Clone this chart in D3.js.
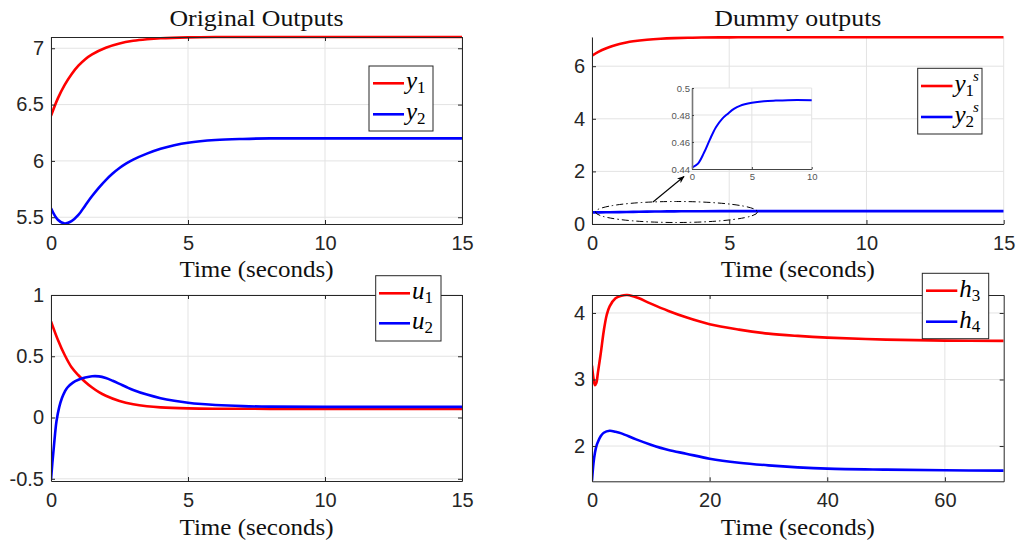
<!DOCTYPE html>
<html><head><meta charset="utf-8">
<script src="https://cdn.jsdelivr.net/npm/d3@7"></script>
<style>body{margin:0;background:#fff}</style>
</head><body>
<svg id="c" width="1020" height="543"></svg>
<script>
// ---------- data ----------
const tY1 = [0,0.25,0.5,0.75,1,1.25,1.5,2,2.5,3,3.5,4,5,6,8,10,15];
const y1  = [6.40,6.555,6.675,6.77,6.845,6.903,6.946,7.005,7.043,7.066,7.08,7.089,7.097,7.1,7.1,7.1,7.1];
const tY2 = [0,0.25,0.5,0.75,1,1.25,1.5,1.75,2,2.25,2.5,2.75,3,3.5,4,4.5,5,6,7,8,10,15];
const y2  = [5.58,5.478,5.445,5.465,5.52,5.605,5.688,5.763,5.83,5.888,5.937,5.978,6.012,6.065,6.108,6.14,6.162,6.185,6.195,6.2,6.2,6.2];
const tY2s = [0,0.5,1,1.5,2,2.5,3,3.5,4,5,6,7,8,10,15];
const y2s  = [0.441,0.444,0.452,0.462,0.471,0.477,0.481,0.4845,0.4868,0.489,0.4902,0.4907,0.491,0.491,0.491];
const tU1 = [0,0.25,0.5,0.75,1,1.25,1.5,1.75,2,2.5,3,3.5,4,5,6,8,15];
const u1  = [0.785,0.635,0.51,0.41,0.345,0.29,0.245,0.207,0.178,0.135,0.108,0.092,0.083,0.075,0.072,0.071,0.071];
const tU2 = [0,0.05,0.1,0.15,0.2,0.3,0.4,0.5,0.6,0.8,1,1.25,1.5,1.75,2,2.25,2.5,2.75,3,3.5,4,4.5,5,5.5,6,7,8,10,15];
const u2  = [-0.51,-0.37,-0.25,-0.13,-0.03,0.085,0.16,0.21,0.245,0.285,0.308,0.326,0.337,0.336,0.322,0.30,0.275,0.249,0.225,0.187,0.158,0.137,0.121,0.110,0.102,0.093,0.089,0.087,0.087];
const tH3 = [0,0.25,0.5,0.75,1,1.5,2,2.5,3,4,5,6,7,8,10,13,16,20,25,30,35,40,50,60,70];
const h3  = [3.21,3.02,2.915,2.95,3.1,3.4,3.73,3.97,4.1,4.22,4.26,4.27,4.25,4.22,4.14,4.03,3.935,3.83,3.75,3.69,3.655,3.63,3.60,3.585,3.58];
const tH4 = [0,0.25,0.5,0.75,1,1.5,2,3,4,5,7.5,10,13,16,20,25,30,35,40,50,60,70];
const h4  = [1.48,1.74,1.9,2.0,2.06,2.15,2.2,2.23,2.215,2.19,2.10,2.02,1.94,1.885,1.81,1.75,1.71,1.68,1.66,1.645,1.635,1.63];

const xTicks15 = [0,5,10,15];
const xTicks70 = [0,20,40,60];
const yTicksP1 = [5.5,6,6.5,7];
const yTicksP2 = [0,2,4,6];
const yTicksP3 = [-0.5,0,0.5,1];
const yTicksP4 = [2,3,4];
const insetXTicks = [0,5,10];
const insetYTicks = [0.44,0.46,0.48,0.5];
const titles = ["Original Outputs","Dummy outputs"];
const xLabel = "Time (seconds)";

// ---------- drawing ----------
const svg = d3.select("#c");
const RED = "#ff0000", BLUE = "#0000ff", AX = "#262626", GRID = "#e3e3e3";
const SANS = "'Liberation Sans', Arial, sans-serif";
const SERIF = "'Liberation Serif', 'Times New Roman', serif";
const CURVE = d3.curveCatmullRom.alpha(0.5);
let clipId = 0;

function zip(t, v){ return t.map((d,i)=>[d, v[i]]); }

function panel(cfg){
  const g = svg.append("g");
  const x = d3.scaleLinear().domain(cfg.xd).range([cfg.L, cfg.R]);
  const y = d3.scaleLinear().domain(cfg.yd).range([cfg.B, cfg.T]);
  g.selectAll(".gx").data(cfg.xt).enter().append("line")
    .attr("x1", d=>x(d)).attr("x2", d=>x(d)).attr("y1", cfg.T).attr("y2", cfg.B)
    .attr("stroke", GRID).attr("stroke-width", 1);
  g.selectAll(".gy").data(cfg.yt).enter().append("line")
    .attr("y1", d=>y(d)).attr("y2", d=>y(d)).attr("x1", cfg.L).attr("x2", cfg.R)
    .attr("stroke", GRID).attr("stroke-width", 1);
  const id = "clip" + (clipId++);
  svg.append("clipPath").attr("id", id).append("rect")
    .attr("x", cfg.L).attr("y", cfg.T - 2).attr("width", cfg.R - cfg.L).attr("height", cfg.B - cfg.T + 2);
  const line = d3.line().x(d=>x(d[0])).y(d=>y(d[1])).curve(CURVE);
  const lg = g.append("g").attr("clip-path", `url(#${id})`);
  cfg.series.forEach(s=>{
    lg.append("path").attr("d", line(zip(s.t, s.v))).attr("fill","none")
      .attr("stroke", s.c).attr("stroke-width", 2.6).attr("stroke-linejoin","round");
  });
  const styleAx = sel => {
    sel.select(".domain").attr("stroke", AX).attr("stroke-width", 1);
    sel.selectAll(".tick line").attr("stroke", AX);
    sel.selectAll(".tick text").attr("fill", AX).attr("font-family", SANS).attr("font-size", 20);
  };
  g.append("g").attr("transform", `translate(0,${cfg.B})`)
    .call(d3.axisBottom(x).tickValues(cfg.xt).tickSizeInner(-4).tickSizeOuter(0).tickPadding(12).tickFormat(d=>String(d)))
    .call(styleAx);
  g.append("g").attr("transform", `translate(${cfg.L},0)`)
    .call(d3.axisLeft(y).tickValues(cfg.yt).tickSizeInner(-4).tickSizeOuter(0).tickPadding(7).tickFormat(d=>String(d)))
    .call(styleAx);
  if (cfg.box){
    g.append("g").attr("transform", `translate(0,${cfg.T})`)
      .call(d3.axisTop(x).tickValues(cfg.xt).tickSizeInner(-4).tickSizeOuter(0).tickFormat(""))
      .call(styleAx);
    g.append("g").attr("transform", `translate(${cfg.R},0)`)
      .call(d3.axisRight(y).tickValues(cfg.yt).tickSizeInner(-4).tickSizeOuter(0).tickFormat(""))
      .call(styleAx);
  }
  g.append("text").attr("x", (cfg.L+cfg.R)/2).attr("y", cfg.labelY).attr("text-anchor","middle")
    .attr("font-family", SERIF).attr("font-size", 23).attr("fill", "#111")
    .attr("textLength", 154).attr("lengthAdjust","spacingAndGlyphs").text(xLabel);
  if (cfg.title){
    g.append("text").attr("x", (cfg.L+cfg.R)/2).attr("y", 26).attr("text-anchor","middle")
      .attr("font-family", SERIF).attr("font-size", 23).attr("fill", "#111")
      .attr("textLength", cfg.titleLen).attr("lengthAdjust","spacingAndGlyphs").text(cfg.title);
  }
  return {g, x, y};
}

function legend(box, rows){
  const g = svg.append("g");
  g.append("rect").attr("x", box[0]).attr("y", box[1]).attr("width", box[2]).attr("height", box[3])
    .attr("fill", "#fff").attr("stroke", AX).attr("stroke-width", 1);
  rows.forEach(r=>{
    g.append("line").attr("x1", r.x0).attr("x2", r.x1).attr("y1", r.y).attr("y2", r.y)
      .attr("stroke", r.c).attr("stroke-width", 2.6);
    const tx = r.x1 + 2, base = r.y + 6;
    const t = g.append("text").attr("x", tx).attr("y", base).attr("font-family", SERIF)
      .attr("fill", "#000");
    t.append("tspan").attr("font-style","italic").attr("font-size", 25).text(r.sym);
    t.append("tspan").attr("font-size", 17).attr("dy", 4).text(r.sub);
    if (r.sup){
      t.append("tspan").attr("font-style","italic").attr("font-size", 15)
        .attr("dx", -1).attr("dy", -15).text(r.sup);
    }
  });
}

// Panel 1
panel({L:51, R:462, T:37, B:224, xd:[0,15], yd:[5.44,7.1], xt:xTicks15, yt:yTicksP1, box:true,
  labelY:277, title:titles[0], titleLen:174,
  series:[{t:tY1, v:y1, c:RED},{t:tY2, v:y2, c:BLUE}]});
legend([369,66,64,65], [
  {x0:373, x1:404, y:83.3, c:RED, sym:"y", sub:"1"},
  {x0:373, x1:404, y:114.3, c:BLUE, sym:"y", sub:"2"}]);

// Panel 2
panel({L:592, R:1003.7, T:37, B:224, xd:[0,15], yd:[0,7.11], xt:xTicks15, yt:yTicksP2, box:false,
  labelY:277, title:titles[1], titleLen:167,
  series:[{t:tY1, v:y1, c:RED},{t:tY2s, v:y2s, c:BLUE}]});
legend([917.7,68.3,64.3,65.7], [
  {x0:921, x1:952.5, y:86, c:RED, sym:"y", sub:"1", sup:"s"},
  {x0:921, x1:952.5, y:117, c:BLUE, sym:"y", sub:"2", sup:"s"}]);

// inset
(function(){
  const L=692, R=811.7, T=88, B=169;
  const g = svg.append("g");
  const x = d3.scaleLinear().domain([0,10]).range([L,R]);
  const y = d3.scaleLinear().domain([0.44,0.5]).range([B,T]);
  g.append("rect").attr("x", L).attr("y", T).attr("width", R-L).attr("height", B-T).attr("fill", "#fff");
  g.selectAll(".gx").data(insetXTicks.slice(1)).enter().append("line")
    .attr("x1", d=>x(d)).attr("x2", d=>x(d)).attr("y1", T).attr("y2", B).attr("stroke", GRID);
  g.selectAll(".gy").data(insetYTicks.slice(1)).enter().append("line")
    .attr("y1", d=>y(d)).attr("y2", d=>y(d)).attr("x1", L).attr("x2", R).attr("stroke", GRID);
  const pts = zip(tY2s, y2s).filter(d=>d[0] <= 10);
  g.append("path").attr("d", d3.line().x(d=>x(d[0])).y(d=>y(d[1])).curve(CURVE)(pts))
    .attr("fill","none").attr("stroke", BLUE).attr("stroke-width", 2);
  const st = sel => {
    sel.select(".domain").attr("stroke", "#444").attr("stroke-width", 1.2);
    sel.selectAll(".tick line").attr("stroke", "#444");
    sel.selectAll(".tick text").attr("fill", "#555").attr("font-family", SANS).attr("font-size", 9.5);
  };
  g.append("g").attr("transform", `translate(0,${B})`)
    .call(d3.axisBottom(x).tickValues(insetXTicks).tickSizeInner(-2).tickSizeOuter(0).tickPadding(4).tickFormat(d=>String(d))).call(st);
  const la = g.append("g").attr("transform", `translate(${L},0)`)
    .call(d3.axisLeft(y).tickValues(insetYTicks).tickSizeInner(-2).tickSizeOuter(0).tickPadding(2).tickFormat(d=>String(d))).call(st);
  la.select(".domain").attr("stroke", "#777").attr("stroke-width", 1.6);
  svg.append("ellipse").attr("cx", 676.5).attr("cy", 212).attr("rx", 81).attr("ry", 10.5)
    .attr("fill","none").attr("stroke","#000").attr("stroke-width",1).attr("stroke-dasharray","7,3,1.5,3");
  const defs = svg.append("defs");
  defs.append("marker").attr("id","ah").attr("viewBox","0 0 10 10").attr("refX",9).attr("refY",5)
    .attr("markerWidth",7).attr("markerHeight",7).attr("orient","auto")
    .append("path").attr("d","M0,1 L10,5 L0,9 L3,5 Z").attr("fill","#000");
  svg.append("line").attr("x1",653).attr("y1",202).attr("x2",684).attr("y2",176.5)
    .attr("stroke","#000").attr("stroke-width",1.1).attr("marker-end","url(#ah)");
})();

// Panel 3
panel({L:51, R:462, T:295, B:481, xd:[0,15], yd:[-0.518,1], xt:xTicks15, yt:yTicksP3, box:true,
  labelY:535,
  series:[{t:tU1, v:u1, c:RED},{t:tU2, v:u2, c:BLUE}]});
legend([375.7,275.7,65.3,65.3], [
  {x0:379, x1:410, y:293.3, c:RED, sym:"u", sub:"1"},
  {x0:379, x1:410, y:323.3, c:BLUE, sym:"u", sub:"2"}]);

// Panel 4
panel({L:592, R:1003.7, T:295, B:481.3, xd:[0,70], yd:[1.47,4.27], xt:xTicks70, yt:yTicksP4, box:true,
  labelY:535,
  series:[{t:tH3, v:h3, c:RED},{t:tH4, v:h4, c:BLUE}]});
legend([922.3,273.3,66.4,65.4], [
  {x0:926, x1:957.3, y:290.7, c:RED, sym:"h", sub:"3"},
  {x0:926, x1:957.3, y:321.7, c:BLUE, sym:"h", sub:"4"}]);
</script>
</body></html>
